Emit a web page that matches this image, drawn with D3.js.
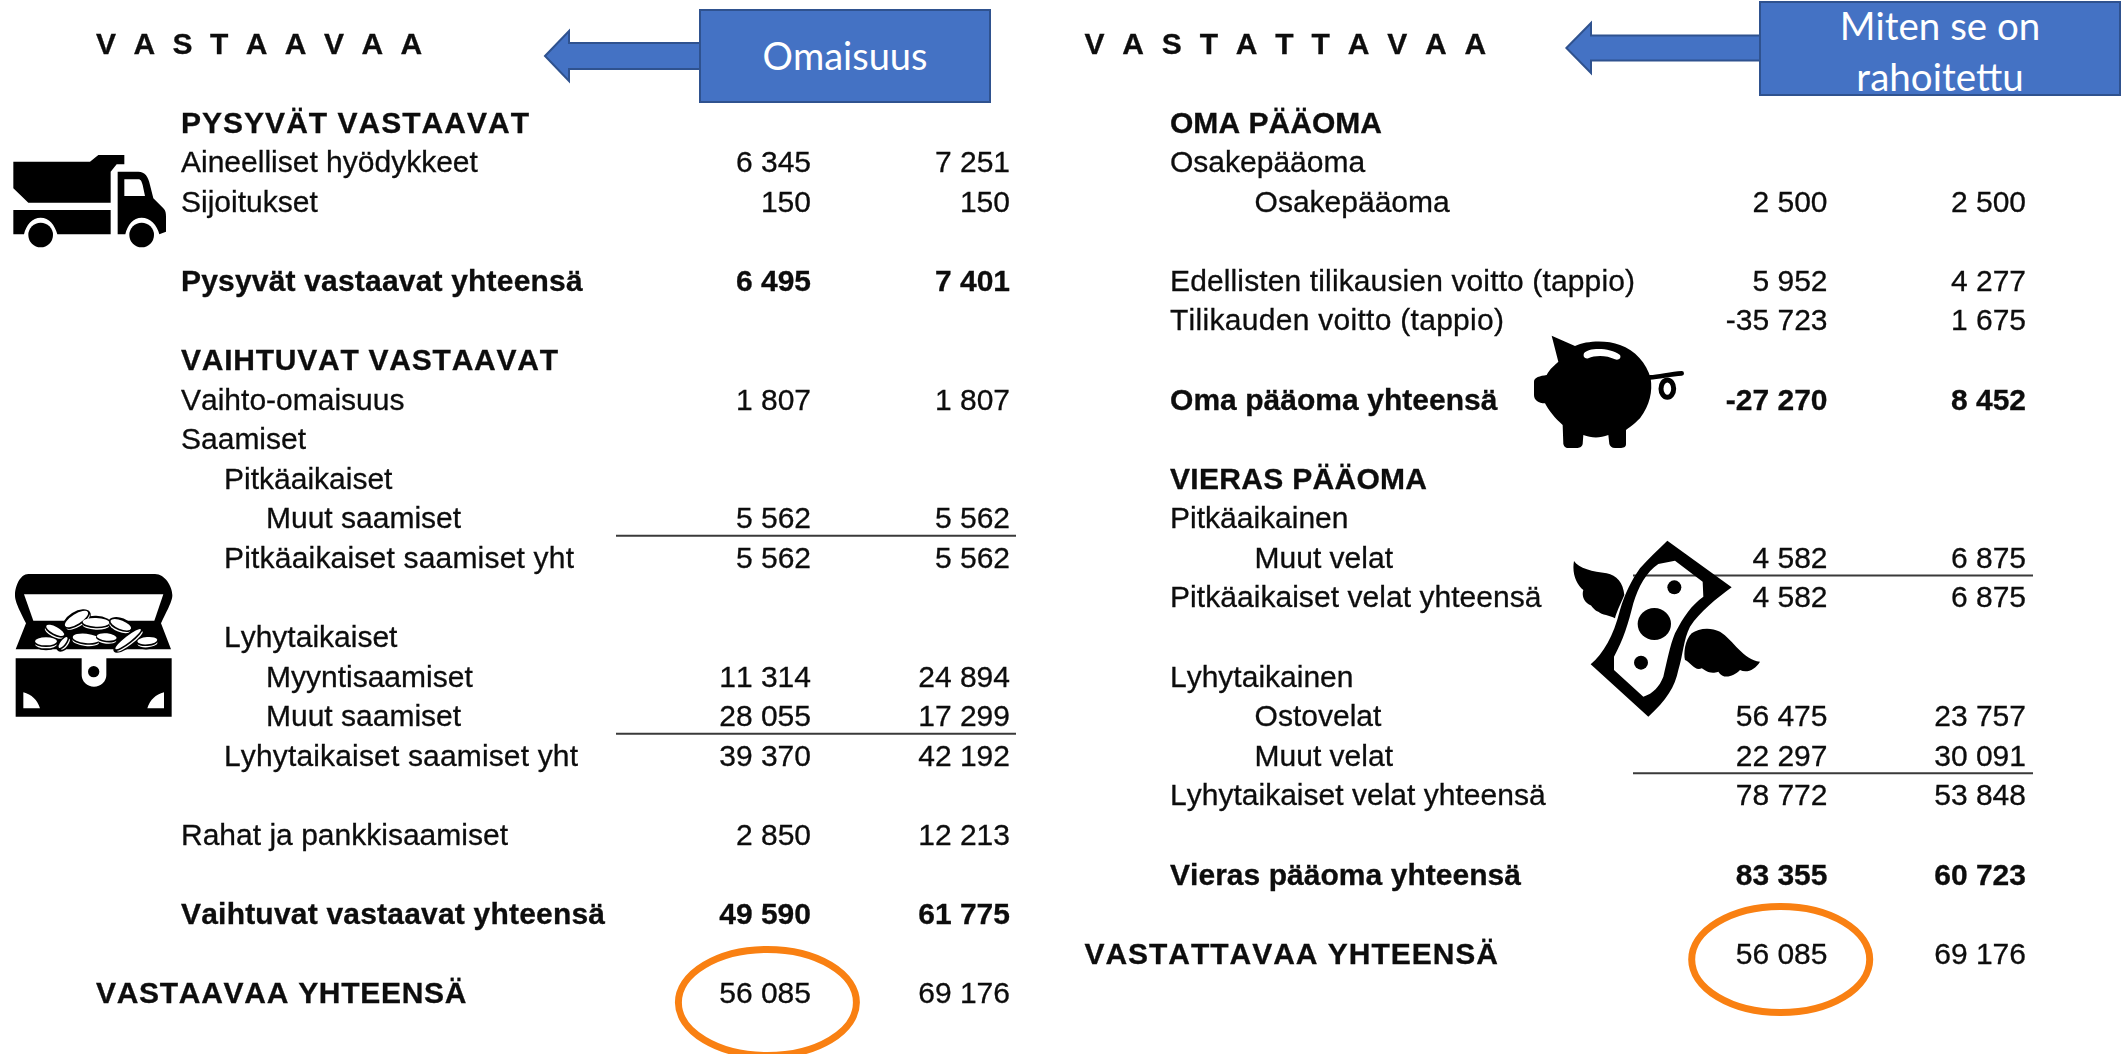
<!DOCTYPE html>
<html>
<head>
<meta charset="utf-8">
<script src="https://cdn.jsdelivr.net/npm/d3@7"></script>
<style>
html,body{margin:0;padding:0;background:#fff;overflow:hidden}
svg{display:block}
text{font-family:"Liberation Sans",Arial,sans-serif;font-kerning:none}
.soft{filter:blur(0.45px)}
.soft text{stroke:#0d0d0d;stroke-width:.3px}
</style>
</head>
<body>
<svg id="c" width="2123" height="1054" viewBox="0 0 2123 1054"></svg>
<script>
// ---- data ----
const assetTitle = "V A S T A A V A A";
const assetLabels = ["PYSYVÄT VASTAAVAT","Aineelliset hyödykkeet","Sijoitukset","","Pysyvät vastaavat yhteensä","","VAIHTUVAT VASTAAVAT","Vaihto-omaisuus","Saamiset","Pitkäaikaiset","Muut saamiset","Pitkäaikaiset saamiset yht","","Lyhytaikaiset","Myyntisaamiset","Muut saamiset","Lyhytaikaiset saamiset yht","","Rahat ja pankkisaamiset","","Vaihtuvat vastaavat yhteensä","","VASTAAVAA YHTEENSÄ"];
const assetKinds  = ["head","item","item","","head","","head","item","item","sub","subsub","sub","","sub","subsub","subsub","sub","","item","","head","","grand"];
const assetCol1   = [null,6345,150,null,6495,null,null,1807,null,null,5562,5562,null,null,11314,28055,39370,null,2850,null,49590,null,56085];
const assetCol2   = [null,7251,150,null,7401,null,null,1807,null,null,5562,5562,null,null,24894,17299,42192,null,12213,null,61775,null,69176];
const assetRules  = [10,15];

const liabTitle = "V A S T A T T A V A A";
const liabLabels = ["OMA PÄÄOMA","Osakepääoma","Osakepääoma","","Edellisten tilikausien voitto (tappio)","Tilikauden voitto (tappio)","","Oma pääoma yhteensä","","VIERAS PÄÄOMA","Pitkäaikainen","Muut velat","Pitkäaikaiset velat yhteensä","","Lyhytaikainen","Ostovelat","Muut velat","Lyhytaikaiset velat yhteensä","","Vieras pääoma yhteensä","","VASTATTAVAA YHTEENSÄ"];
const liabKinds  = ["head","item","subsub","","item","item","","head","","head","item","subsub","item","","item","subsub","subsub","item","","head","","grand"];
const liabCol1   = [null,null,2500,null,5952,-35723,null,-27270,null,null,null,4582,4582,null,null,56475,22297,78772,null,83355,null,56085];
const liabCol2   = [null,null,2500,null,4277,1675,null,8452,null,null,null,6875,6875,null,null,23757,30091,53848,null,60723,null,69176];
const liabRules  = [11,16];

const calloutLeft  = ["Omaisuus"];
const calloutRight = ["Miten se on","rahoitettu"];

// ---- helpers ----
const svg = d3.select("#c");
svg.append("rect").attr("width",2123).attr("height",1054).attr("fill","#fff");

// fitted text widths of the labels whose glyph advances differ from the font here
const fitted = new Map([
  ["PYSYVÄT VASTAAVAT",348],["VAIHTUVAT VASTAAVAT",377],["Pysyvät vastaavat yhteensä",401.6],
  ["Vaihtuvat vastaavat yhteensä",424],["VASTAAVAA YHTEENSÄ",370.5],["OMA PÄÄOMA",212],["VIERAS PÄÄOMA",257],
  ["Oma pääoma yhteensä",327.5],["Vieras pääoma yhteensä",351],["VASTATTAVAA YHTEENSÄ",413.6],
  ["Edellisten tilikausien voitto (tappio)",465],["Pitkäaikaiset velat yhteensä",371.5],
  ["Lyhytaikaiset velat yhteensä",375.6],["Lyhytaikaiset saamiset yht",354],["Pitkäaikaiset saamiset yht",350],
  ["Tilikauden voitto (tappio)",334],["Rahat ja pankkisaamiset",327]
]);

const fmt = d3.formatLocale({decimal:",",thousands:"\u00a0",grouping:[3],currency:["",""],minus:"-"}).format(",d");
const rowY = d3.scaleLinear().domain([0,22]).range([132.5,132.5+22*39.58]);
const TEXT = "#0d0d0d";

function panel(o){
  const g = svg.append("g");
  const indent = d3.scaleOrdinal().domain(["grand","head","item","sub","subsub"]).range(o.indents);
  const rows = o.labels.map((label,i)=>({label,kind:o.kinds[i],i,a:o.col1[i],b:o.col2[i]}));

  g.selectAll("line.rule").data(o.rules).join("line")
    .attr("class","rule")
    .attr("x1",o.ruleX[0]).attr("x2",o.ruleX[1])
    .attr("y1",d=>rowY(d)+o.ruleGap).attr("y2",d=>rowY(d)+o.ruleGap)
    .attr("stroke","#3a3a3a").attr("stroke-width",2);

  const t = g.append("g").attr("class","soft");
  t.append("text").attr("x",o.titleX).attr("y",54).attr("font-size",30)
    .attr("font-weight","bold").attr("letter-spacing",o.titleSpacing).attr("fill",TEXT)
    .attr("xml:space","preserve").text(o.title);

  t.selectAll("text.lab").data(rows.filter(r=>r.label)).join("text")
    .attr("class","lab")
    .attr("x",d=>indent(d.kind)).attr("y",d=>rowY(d.i))
    .attr("font-size",30)
    .attr("font-weight",d=>(d.kind==="head"||d.kind==="grand")?"bold":"normal")
    .attr("fill",TEXT)
    .attr("textLength",d=>fitted.has(d.label)?fitted.get(d.label):null)
    .attr("lengthAdjust",d=>fitted.has(d.label)?"spacing":null)
    .text(d=>d.label);

  [["a",o.colX[0]],["b",o.colX[1]]].forEach(([key,x])=>{
    t.selectAll("text.v"+key).data(rows.filter(r=>r[key]!==null)).join("text")
      .attr("class","v"+key)
      .attr("x",x).attr("y",d=>rowY(d.i))
      .attr("text-anchor","end").attr("font-size",30)
      .attr("font-weight",d=>d.kind==="head"?"bold":"normal")
      .attr("fill",TEXT).text(d=>fmt(d[key]));
  });

  const a = o.arrow;
  g.append("path")
    .attr("d",`M${a.tip},${a.cy} L${a.base},${a.cy-a.head} L${a.base},${a.cy-a.shaft} L${o.box.x},${a.cy-a.shaft} L${o.box.x},${a.cy+a.shaft} L${a.base},${a.cy+a.shaft} L${a.base},${a.cy+a.head} Z`)
    .attr("fill","#4472c4").attr("stroke","#2f528f").attr("stroke-width",2);
  g.append("rect").attr("x",o.box.x).attr("y",o.box.y).attr("width",o.box.w).attr("height",o.box.h)
    .attr("fill","#4472c4").attr("stroke","#2f528f").attr("stroke-width",2);
  g.selectAll("text.call").data(o.callout).join("text")
    .attr("class","call")
    .attr("x",o.box.x+o.box.w/2).attr("y",(d,i)=>o.calloutY[i])
    .attr("text-anchor","middle").attr("fill","#fff")
    .style("font-family","Lato,Carlito,sans-serif").attr("font-size",o.calloutSize).text(d=>d);

  g.append("ellipse").attr("cx",o.ring[0]).attr("cy",o.ring[1]).attr("rx",o.ring[2]).attr("ry",o.ring[3])
    .attr("fill","none").attr("stroke","#f98012").attr("stroke-width",7);
}

panel({title:assetTitle,titleSpacing:4.55,labels:assetLabels,kinds:assetKinds,col1:assetCol1,col2:assetCol2,rules:assetRules,
  indents:[96,181,181,224,266],colX:[811,1010],titleX:96,ruleX:[616,1016],ruleGap:7.5,
  arrow:{tip:545,base:569,cy:56,head:25,shaft:13},box:{x:700,y:10,w:290,h:92},
  callout:calloutLeft,calloutY:[70],calloutSize:38,ring:[767.4,1002.5,89,53]});

panel({title:liabTitle,titleSpacing:4.76,labels:liabLabels,kinds:liabKinds,col1:liabCol1,col2:liabCol2,rules:liabRules,
  indents:[1084.4,1170,1170,1254.6,1254.6],colX:[1827.5,2026],titleX:1084.4,ruleX:[1633,2033],ruleGap:7.5,
  arrow:{tip:1566.4,base:1591,cy:48,head:25,shaft:12.5},box:{x:1760,y:2,w:360,h:93},
  callout:calloutRight,calloutY:[40,91],calloutSize:38.5,ring:[1780.7,959.5,89,53]});

// ---- pictograms ----
function icon(x,y){return svg.append("g").attr("class","soft").attr("transform",`translate(${x},${y}) scale(${1/3})`);}

const truck = icon(0,130);
truck.append("path").attr("d","M40,95 L270,95 L295,75 L373,75 L373,103 L350,103 L332,125 L332,218 L85,218 L40,175 Z");
truck.append("path").attr("d","M40,240 L332,240 L332,313 L172,313 C165,285 147,263 122,263 C97,263 78,285 72,313 L40,313 Z");
truck.append("path").attr("fill-rule","evenodd").attr("d","M353,125 L415,125 C435,125 445,140 450,165 L460,205 L490,235 C497,242 498,250 498,260 L498,305 L478,313 C472,285 450,263 425,263 C400,263 382,285 376,313 L353,313 Z M373,148 L415,148 C423,148 425,155 428,165 L435,198 L373,198 Z");
truck.selectAll("circle").data([122,425]).join("circle").attr("cx",d=>d).attr("cy",315).attr("r",37);

const chest = icon(0,560);
chest.append("path").attr("d","M85,42 L465,42 C495,42 517,80 517,105 C517,120 510,135 483,190 L513,268 L47,268 L78,190 C50,135 45,120 45,105 C45,80 60,42 85,42 Z");
chest.append("path").attr("fill","#fff").attr("d","M72,103 L490,103 L463,182 L100,182 Z");
const coins = [[230,178,40,15,-32],[288,188,40,13,2],[362,195,33,13,22],[165,212,30,11,28],[258,236,40,14,6],[320,232,30,11,6],[385,238,48,9,-38],[442,243,30,11,-5],[138,245,33,12,0],[190,248,20,7,-52]];
chest.selectAll("ellipse.b").data(coins).join("ellipse").attr("class","b").attr("rx",d=>d[2]+7).attr("ry",d=>d[3]+11)
  .attr("transform",d=>`translate(${d[0]},${d[1]+3}) rotate(${d[4]})`).attr("fill","#000");
coins.forEach(d=>{
  const c = chest.append("g").attr("transform",`translate(${d[0]},${d[1]}) rotate(${d[4]})`);
  c.append("ellipse").attr("cy",8).attr("rx",d[2]).attr("ry",d[3]).attr("fill","#fff");
  c.append("ellipse").attr("cy",3).attr("rx",d[2]+2).attr("ry",d[3]+1).attr("fill","#000");
  c.append("ellipse").attr("cy",-1).attr("rx",d[2]).attr("ry",d[3]).attr("fill","#fff");
});
chest.append("path").attr("fill-rule","evenodd").attr("d","M47,295 L245,295 L245,345 A37,35 0 0 0 319,345 L319,295 L515,295 L515,470 L47,470 Z M70,397 C95,403 112,420 120,445 L70,445 Z M492,397 C467,403 450,420 442,445 L492,445 Z");
chest.append("circle").attr("cx",281).attr("cy",335).attr("r",17);

const pig = icon(1520,320);
pig.append("path").attr("d","M95,47 L165,78 C200,62 260,60 300,75 C345,90 380,130 392,175 C398,215 390,255 360,295 C340,315 325,325 318,330 L318,372 C318,382 310,384 300,384 L285,384 C275,384 270,378 268,372 L265,345 C240,355 215,355 190,345 L188,372 C185,382 178,384 170,384 L145,384 C135,384 132,378 130,372 L128,315 C105,295 85,270 75,250 C55,250 42,240 42,225 L42,185 C42,172 60,168 80,165 C90,145 105,135 115,125 Z");
pig.append("path").attr("fill","#fff").attr("d","M192,100 C205,82 270,82 300,105 C305,115 295,122 285,118 C260,105 225,105 205,115 C195,118 188,110 192,100 Z");
pig.append("path").attr("fill","none").attr("stroke","#000").attr("stroke-width",14).attr("stroke-linecap","round").attr("d","M390,172 C420,172 445,162 485,160");
pig.append("ellipse").attr("cx",442).attr("cy",206).attr("rx",19).attr("ry",26).attr("fill","#fff").attr("stroke","#000").attr("stroke-width",15);

const note = icon(1560,530);
note.append("path").attr("fill-rule","evenodd").attr("d","M322,32 L515,172 C470,205 420,245 390,290 C370,330 370,370 355,420 C345,470 320,510 265,560 L92,403 C130,370 160,320 180,240 C195,190 215,150 240,115 C265,85 295,60 322,32 Z M345,92 L428,155 L430,200 C395,225 370,260 345,310 C330,345 320,400 310,440 C298,470 280,490 250,500 L162,420 L162,380 C190,330 205,280 220,220 C235,170 260,125 295,102 Z");
note.selectAll("ellipse").data([[343,172,21,21],[283,282,50,48],[243,398,21,21]]).join("ellipse")
  .attr("cx",d=>d[0]).attr("cy",d=>d[1]).attr("rx",d=>d[2]).attr("ry",d=>d[3]);
note.append("path").attr("d","M42,93 C55,115 100,125 140,130 C170,135 190,160 193,195 C180,225 168,250 165,265 C150,255 125,255 115,245 C100,240 95,225 90,225 C70,215 65,195 70,180 C50,165 35,130 42,93 Z");
note.append("path").attr("d","M395,310 C415,295 450,290 480,305 C520,330 550,390 600,395 C585,420 560,430 540,420 C520,440 490,450 475,425 C450,435 435,420 425,415 C405,425 390,395 375,390 C370,370 375,330 395,310 Z");
</script>
</body>
</html>
